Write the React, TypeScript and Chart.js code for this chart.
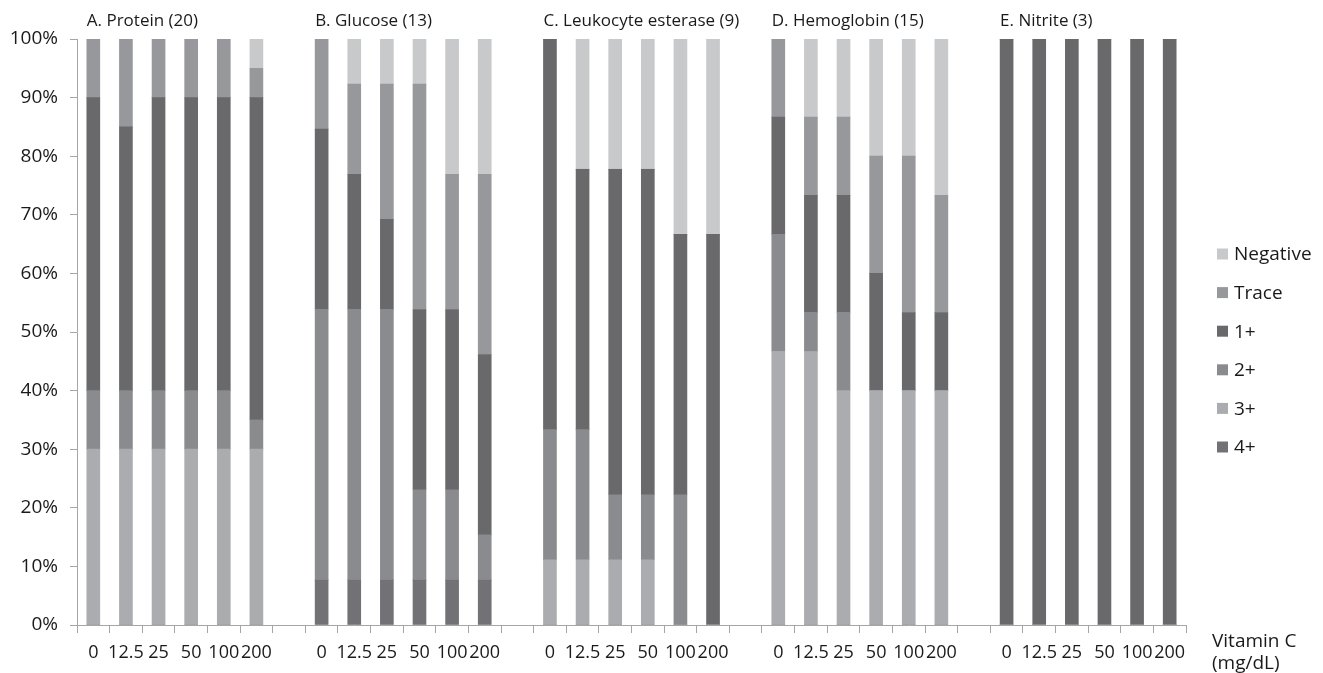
import React, { useEffect, useRef } from "react";
import { Chart, registerables } from "chart.js";

Chart.register(...registerables);

// Groups (analyte, number of samples)
const groupTitles = ["A. Protein (20)", "B. Glucose (13)", "C. Leukocyte esterase (9)", "D. Hemoglobin (15)", "E. Nitrite (3)"];
const groupN = [20, 13, 9, 15, 3];
const doses = ["0", "12.5", "25", "50", "100", "200"];

// Counts per grade, per group (doses 0..200)
const grade4 = [
  [0, 0, 0, 0, 0, 0],
  [1, 1, 1, 1, 1, 1],
  [0, 0, 0, 0, 0, 0],
  [0, 0, 0, 0, 0, 0],
  [0, 0, 0, 0, 0, 0],
];
const grade3 = [
  [6, 6, 6, 6, 6, 6],
  [0, 0, 0, 0, 0, 0],
  [1, 1, 1, 1, 0, 0],
  [7, 7, 6, 6, 6, 6],
  [0, 0, 0, 0, 0, 0],
];
const grade2 = [
  [2, 2, 2, 2, 2, 1],
  [6, 6, 6, 2, 2, 1],
  [2, 2, 1, 1, 2, 0],
  [3, 1, 2, 0, 0, 0],
  [0, 0, 0, 0, 0, 0],
];
const grade1 = [
  [10, 9, 10, 10, 10, 11],
  [4, 3, 2, 4, 4, 4],
  [6, 4, 5, 5, 4, 6],
  [3, 3, 3, 3, 2, 2],
  [3, 3, 3, 3, 3, 3],
];
const gradeTrace = [
  [2, 3, 2, 2, 2, 1],
  [2, 2, 3, 5, 3, 4],
  [0, 0, 0, 0, 0, 0],
  [2, 2, 2, 3, 4, 3],
  [0, 0, 0, 0, 0, 0],
];
const gradeNeg = [
  [0, 0, 0, 0, 0, 1],
  [0, 1, 1, 1, 3, 3],
  [0, 2, 2, 2, 3, 3],
  [0, 2, 2, 3, 3, 4],
  [0, 0, 0, 0, 0, 0],
];

const seriesNames = ["4+", "3+", "2+", "1+", "Trace", "Negative"];
const seriesCounts = [grade4, grade3, grade2, grade1, gradeTrace, gradeNeg];
const seriesColors = ["#727276", "#abacaf", "#8a8b8e", "#69696b", "#97989b", "#c8c9cb"];

const FONT = "'Open Sans', 'Noto Sans', sans-serif";

// Build category labels with an empty slot between groups
const labels: string[] = [];
groupTitles.forEach((_, g) => {
  doses.forEach((d) => labels.push(d));
  if (g < groupTitles.length - 1) labels.push("");
});

function buildData(counts: number[][]) {
  const out: (number | null)[] = [];
  counts.forEach((arr, g) => {
    arr.forEach((c) => out.push((c / groupN[g]) * 100));
    if (g < counts.length - 1) out.push(null);
  });
  return out;
}

const overlayPlugin = {
  id: "overlay",
  afterDraw(chart: any) {
    const ctx = chart.ctx;
    const x = chart.scales.x;
    const barW = 13;
    ctx.save();
    // group titles
    ctx.fillStyle = "#1a1a1a";
    ctx.font = `17px ${FONT}`;
    ctx.textAlign = "left";
    ctx.textBaseline = "middle";
    groupTitles.forEach((t, g) => {
      const idx = g * (doses.length + 1);
      ctx.fillText(t, x.getPixelForValue(idx) - barW / 2, 13);
    });
    // legend
    ctx.font = `19px ${FONT}`;
    const items = seriesNames.map((n, i) => ({ n, c: seriesColors[i] })).reverse();
    items.forEach((it, k) => {
      const cy = 246 + k * 38.6;
      ctx.fillStyle = it.c;
      ctx.fillRect(1209, cy - 5.5, 11, 11);
      ctx.fillStyle = "#1a1a1a";
      ctx.fillText(it.n, 1226, cy + 1);
    });
    // axis unit label
    ctx.font = `19px ${FONT}`;
    ctx.fillText("Vitamin C", 1204, 634);
    ctx.fillText("(mg/dL)", 1204, 656);
    ctx.restore();
  },
};

export default function App() {
  const ref = useRef<HTMLCanvasElement>(null);
  useEffect(() => {
    if (!ref.current) return;
    const chart = new Chart(ref.current, {
      type: "bar",
      data: {
        labels,
        datasets: seriesNames.map((name, i) => ({
          label: name,
          data: buildData(seriesCounts[i]),
          backgroundColor: seriesColors[i],
          borderWidth: 0,
          barThickness: 13,
        })),
      },
      options: {
        animation: false,
        responsive: false,
        maintainAspectRatio: false,
        layout: { padding: { top: 31, right: 129, left: 0, bottom: 0 } },
        plugins: {
          legend: { display: false },
          tooltip: { enabled: false },
        },
        scales: {
          x: {
            stacked: true,
            offset: true,
            afterFit: (s: any) => {
              s.height = 48;
            },
            grid: {
              display: true,
              offset: true,
              drawOnChartArea: false,
              drawTicks: true,
              tickLength: 8,
              color: "#a6a6a6",
            },
            border: { display: true, color: "#a6a6a6" },
            ticks: {
              autoSkip: false,
              maxRotation: 0,
              padding: 9,
              color: "#1a1a1a",
              font: { family: FONT, size: 18 },
            },
          },
          y: {
            stacked: true,
            min: 0,
            max: 100,
            afterFit: (s: any) => {
              s.width = 69;
            },
            grid: {
              display: true,
              drawOnChartArea: false,
              drawTicks: true,
              tickLength: 7,
              color: "#a6a6a6",
            },
            border: { display: true, color: "#a6a6a6" },
            ticks: {
              stepSize: 10,
              padding: 12,
              color: "#1a1a1a",
              font: { family: FONT, size: 19 },
              callback: (v: any) => `${v}%`,
            },
          },
        },
      },
      plugins: [overlayPlugin],
    });
    return () => chart.destroy();
  }, []);
  return (
    <div style={{ width: 1307, height: 665 }}>
      <canvas ref={ref} width={1307} height={665} style={{ display: "block" }} />
    </div>
  );
}
